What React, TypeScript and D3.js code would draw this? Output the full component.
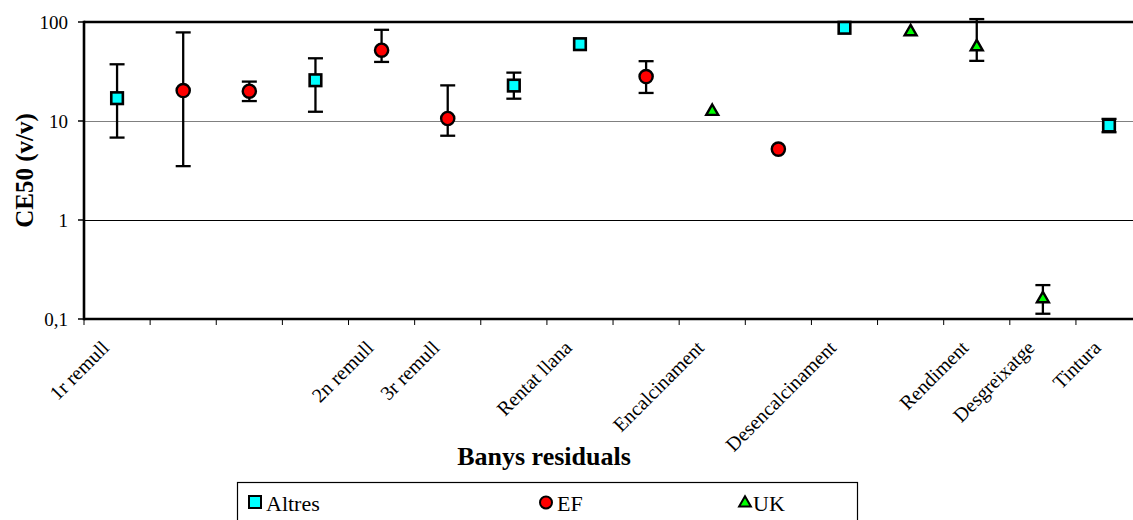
import React from "react";
import * as d3 from "d3";

const categories = ["1r remull", "", "", "", "2n remull", "3r remull", "", "Rentat llana", "", "Encalcinament", "", "Desencalcinament", "", "Rendiment", "Desgreixatge", "Tintura"];
const yTicks = [0.1, 1, 10, 100];
const yTickLabels = ["0,1", "1", "10", "100"];

// slot index, value, lower, upper (null = no error bar)
const altres = [
  { i: 0, v: 17, lo: 6.8, hi: 37.4 },
  { i: 3, v: 25.8, lo: 12.4, hi: 43 },
  { i: 6, v: 22.8, lo: 16.8, hi: 30.8 },
  { i: 7, v: 59.7, lo: null, hi: null },
  { i: 11, v: 87.4, lo: null, hi: null },
  { i: 15, v: 9.0, lo: 7.7, hi: 10.5 },
];
const ef = [
  { i: 1, v: 20.3, lo: 3.5, hi: 78.5 },
  { i: 2, v: 20, lo: 15.9, hi: 25 },
  { i: 4, v: 51.9, lo: 39.5, hi: 83.4 },
  { i: 5, v: 10.6, lo: 7.1, hi: 22.9 },
  { i: 8, v: 28.1, lo: 19.2, hi: 40.2 },
  { i: 10, v: 5.2, lo: null, hi: null },
];
const uk = [
  { i: 9, v: 12.5, lo: null, hi: null },
  { i: 12, v: 79.6, lo: null, hi: null },
  { i: 13, v: 56.1, lo: 40.5, hi: 107 },
  { i: 14, v: 0.16, lo: 0.113, hi: 0.22 },
];

const W = 1133, H = 520;
const left = 84, top = 22, bottom = 319;
const band = 66.13;
const font = "Liberation Serif, Times New Roman, Times, DejaVu Serif, serif";

export default function App() {
  const x = d3.scaleBand<number>().domain(categories.map((_, i) => i)).range([left, left + band * categories.length]).paddingInner(0).paddingOuter(0);
  const y = d3.scaleLog().domain([0.1, 100]).range([bottom, top]);
  const cx = (i: number) => (x(i) as number) + x.bandwidth() / 2;
  const right = W + 10;

  const all = [...altres, ...ef, ...uk];
  const sym = (type: d3.SymbolType, size: number) => d3.symbol().type(type).size(size)() as string;

  return (
    <svg width={W} height={H} style={{ position: "absolute", left: 0, top: 0, background: "#fff", fontFamily: font }}>
      {/* gridlines */}
      <line x1={left} x2={right} y1={Math.round(y(10)) + 0.5} y2={Math.round(y(10)) + 0.5} stroke="#808080" strokeWidth={1.2} />
      <line x1={left} x2={right} y1={Math.round(y(1)) + 0.5} y2={Math.round(y(1)) + 0.5} stroke="#000" strokeWidth={1.2} />
      {/* frame */}
      <line x1={left} x2={right} y1={y(100)} y2={y(100)} stroke="#000" strokeWidth={2.6} />
      <line x1={left} x2={right} y1={bottom} y2={bottom} stroke="#000" strokeWidth={2.6} />
      <line x1={left} x2={left} y1={top - 1.3} y2={bottom + 1.3} stroke="#000" strokeWidth={2.6} />
      {/* y ticks */}
      {yTicks.map((t, k) => (
        <g key={k}>
          <line x1={left - 6} x2={left} y1={y(t)} y2={y(t)} stroke="#000" strokeWidth={1.5} />
          <text x={left - 16} y={y(t)} dy="0.35em" textAnchor="end" fontSize={19}>{yTickLabels[k]}</text>
        </g>
      ))}
      {/* x ticks */}
      {categories.map((_, i) => (
        <line key={i} x1={x(i) as number} x2={x(i) as number} y1={bottom} y2={bottom + 6} stroke="#000" strokeWidth={1} />
      ))}
      {categories.map((c, i) =>
        c ? (
          <text key={"l" + i} transform={`translate(${cx(i) - 7},${bottom + 30}) rotate(-45)`} textAnchor="end" fontSize={20}>{c}</text>
        ) : null
      )}
      {/* error bars */}
      {all.filter((d) => d.lo != null).map((d, k) => (
        <g key={"e" + k} stroke="#000" strokeWidth={2.3}>
          <line x1={cx(d.i)} x2={cx(d.i)} y1={y(d.lo as number)} y2={y(d.hi as number)} />
          <line x1={cx(d.i) - 7.5} x2={cx(d.i) + 7.5} y1={y(d.lo as number)} y2={y(d.lo as number)} />
          <line x1={cx(d.i) - 7.5} x2={cx(d.i) + 7.5} y1={y(d.hi as number)} y2={y(d.hi as number)} />
        </g>
      ))}
      {/* markers */}
      {altres.map((d, k) => (
        <rect key={"a" + k} x={cx(d.i) - 5.8} y={y(d.v) - 5.8} width={11.6} height={11.6} fill="#00FFFF" stroke="#000" strokeWidth={2.6} />
      ))}
      {ef.map((d, k) => (
        <circle key={"f" + k} cx={cx(d.i)} cy={y(d.v)} r={6.6} fill="#FF0000" stroke="#000" strokeWidth={2.4} />
      ))}
      {uk.map((d, k) => (
        <path key={"u" + k} d={sym(d3.symbolTriangle, 62)} transform={`translate(${cx(d.i)},${y(d.v)})`} fill="#00FF00" stroke="#000" strokeWidth={2.4} />
      ))}
      {/* axis titles */}
      <text transform={`translate(33,${(top + bottom) / 2}) rotate(-90)`} textAnchor="middle" fontSize={25} fontWeight="bold">CE50 (v/v)</text>
      <text x={544} y={465} textAnchor="middle" fontSize={26} fontWeight="bold">Banys residuals</text>
      {/* legend */}
      <rect x={237.5} y={482.5} width={620} height={50} fill="#fff" stroke="#000" strokeWidth={1.2} />
      <rect x={249} y={496} width={12} height={12} fill="#00FFFF" stroke="#000" strokeWidth={2} />
      <text x={266} y={511} fontSize={22}>Altres</text>
      <circle cx={546} cy={502.5} r={6} fill="#FF0000" stroke="#000" strokeWidth={2} />
      <text x={557} y={511} fontSize={22}>EF</text>
      <path d={sym(d3.symbolTriangle, 60)} transform="translate(745,503)" fill="#00FF00" stroke="#000" strokeWidth={2} />
      <text x={753} y={511} fontSize={22}>UK</text>
    </svg>
  );
}
